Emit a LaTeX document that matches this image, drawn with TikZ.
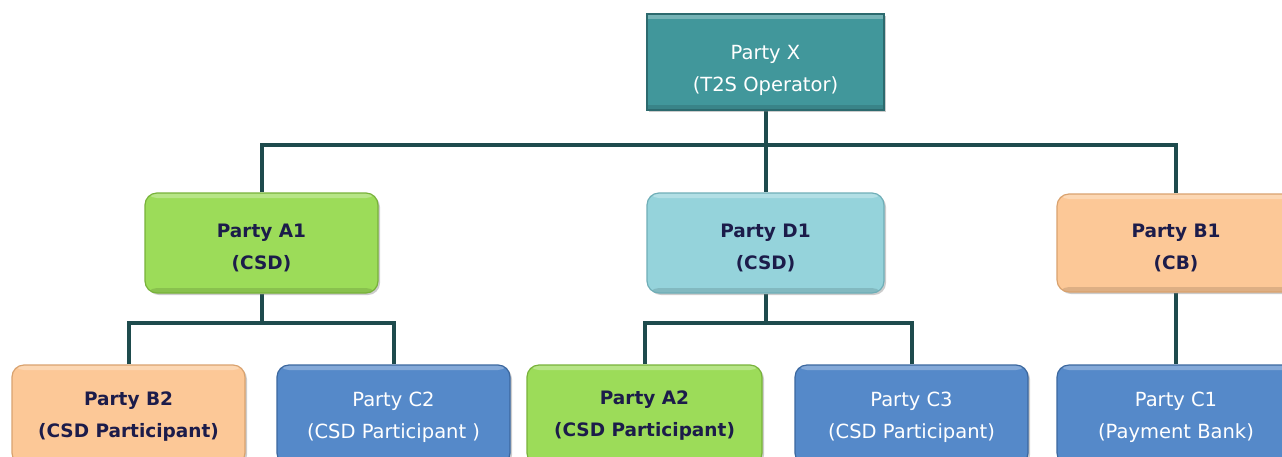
\documentclass[tikz,border=0pt]{standalone}
\usepackage{fontspec}
\setmainfont{DejaVu Sans}
\usetikzlibrary{shadows,backgrounds}
\definecolor{tealbox}{HTML}{41979B}
\definecolor{tealedge}{HTML}{2C6A6E}
\definecolor{greenbox}{HTML}{9CDC59}
\definecolor{greenedge}{HTML}{78B23A}
\definecolor{lbluebox}{HTML}{95D3DB}
\definecolor{lblueedge}{HTML}{6FAEB7}
\definecolor{orangebox}{HTML}{FCC897}
\definecolor{orangeedge}{HTML}{D9A26E}
\definecolor{bluebox}{HTML}{5589C9}
\definecolor{blueedge}{HTML}{3B679E}
\definecolor{linecol}{HTML}{1E4B4D}
\definecolor{navytext}{HTML}{1C1C4A}
\tikzset{
  pbox/.style={inner sep=0pt, line width=1.2pt,
    drop shadow={shadow xshift=2pt, shadow yshift=-2pt, opacity=0.4},
    path picture={
      \fill[white,opacity=0.28] (path picture bounding box.north west) rectangle ([yshift=-5pt]path picture bounding box.north east);
      \fill[black,opacity=0.12] (path picture bounding box.south west) rectangle ([yshift=5pt]path picture bounding box.south east);
    }},
  lighttext/.style={text=white, align=center, inner sep=0pt, font=\fontsize{19.5}{32}\selectfont},
  darktext/.style={text=navytext, align=center, inner sep=0pt, font=\fontsize{18.5}{32}\selectfont\bfseries},
  tealstyle/.style={pbox, fill=tealbox, draw=tealedge},
  greenstyle/.style={pbox, rounded corners=12pt, fill=greenbox, draw=greenedge},
  lbluestyle/.style={pbox, rounded corners=12pt, fill=lbluebox, draw=lblueedge},
  orangestyle/.style={pbox, rounded corners=12pt, fill=orangebox, draw=orangeedge},
  bluestyle/.style={pbox, rounded corners=12pt, fill=bluebox, draw=blueedge},
  conn/.style={draw=linecol, line width=4pt}
}
\begin{document}
\begin{tikzpicture}[x=1pt,y=-1pt]
\useasboundingbox (0,0) rectangle (1282,456);
\clip (0,0) rectangle (1282,456);
% top
\node[tealstyle, minimum width=237pt, minimum height=96pt] (X) at (765.5,62) {};
\node[lighttext] (Xt) at (765.5,70) {Party X\\(T2S Operator)};
% second row
\node[greenstyle, minimum width=233pt, minimum height=100pt] (A1) at (261.5,243) {};
\node[darktext] (A1t) at (261.5,248) {Party A1\\(CSD)};
\node[lbluestyle, minimum width=237pt, minimum height=100pt] (D1) at (765.5,243) {};
\node[darktext] (D1t) at (765.5,248) {Party D1\\(CSD)};
\node[orangestyle, minimum width=238pt, minimum height=98pt] (B1) at (1176,243) {};
\node[darktext] (B1t) at (1176,248) {Party B1\\(CB)};
% third row
\node[orangestyle, minimum width=233pt, minimum height=100pt] (B2) at (128.5,415) {};
\node[darktext] (B2t) at (128.5,417) {Party B2\\(CSD Participant)};
\node[bluestyle, minimum width=233pt, minimum height=100pt] (C2) at (393.5,415) {};
\node[lighttext] (C2t) at (393.5,417) {Party C2\\(CSD Participant )};
\node[greenstyle, minimum width=235pt, minimum height=100pt] (A2) at (644.5,415) {};
\node[darktext] (A2t) at (644.5,416) {Party A2\\(CSD Participant)};
\node[bluestyle, minimum width=233pt, minimum height=100pt] (C3) at (911.5,415) {};
\node[lighttext] (C3t) at (911.5,417) {Party C3\\(CSD Participant)};
\node[bluestyle, minimum width=238pt, minimum height=100pt] (C1) at (1176,415) {};
\node[lighttext] (C1t) at (1176,417) {Party C1\\(Payment Bank)};
% bus coordinates
\coordinate (bus0) at (765.5,145);
\coordinate (busA) at (261.5,323);
\coordinate (busD) at (765.5,323);
\begin{scope}[on background layer]
\draw[conn] (X.south) -- (D1.north);
\draw[conn] (A1.north) |- (bus0);
\draw[conn] (B1.north) |- (bus0);
\draw[conn] (A1.south) -- (busA);
\draw[conn] (B2.north) |- (busA);
\draw[conn] (C2.north) |- (busA);
\draw[conn] (D1.south) -- (busD);
\draw[conn] (A2.north) |- (busD);
\draw[conn] (C3.north) |- (busD);
\draw[conn] (B1.south) -- (C1.north);
\end{scope}
\end{tikzpicture}
\end{document}
